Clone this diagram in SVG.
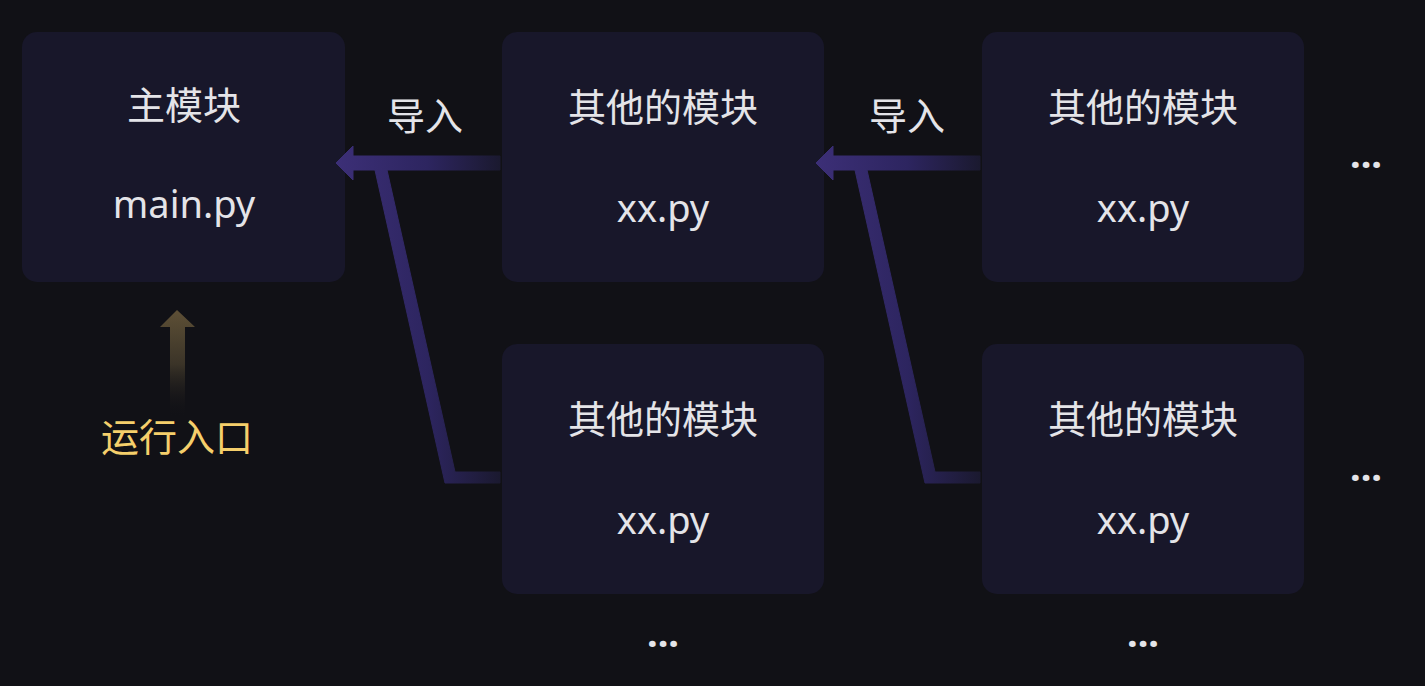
<svg xmlns="http://www.w3.org/2000/svg" width="1425" height="686" viewBox="0 0 1425 686">
  <style>
    .box { fill: #18172a; }
    .t { font-family: "Noto Sans", "Noto Sans CJK SC", sans-serif; font-size: 38px; fill: #e4e4e8; text-anchor: middle; }
    .lbl { font-family: "Noto Sans", "Noto Sans CJK SC", sans-serif; font-size: 38px; fill: #e4e4e8; text-anchor: middle; }
    .entry { font-family: "Noto Sans", "Noto Sans CJK SC", sans-serif; font-size: 38px; fill: #f5cf6b; text-anchor: middle; }
    .dots { font-family: "Noto Sans", sans-serif; font-size: 38px; font-weight: 700; fill: #e4e4e8; text-anchor: middle; }
  </style>
  <defs>
    <linearGradient id="g1" gradientUnits="userSpaceOnUse" x1="336" y1="0" x2="502" y2="0">
      <stop offset="0" stop-color="#3c2f77"/>
      <stop offset="0.55" stop-color="#2d2560"/>
      <stop offset="1" stop-color="#1a192e"/>
    </linearGradient>
    <linearGradient id="g2" gradientUnits="userSpaceOnUse" x1="816" y1="0" x2="982" y2="0">
      <stop offset="0" stop-color="#3c2f77"/>
      <stop offset="0.55" stop-color="#2d2560"/>
      <stop offset="1" stop-color="#1a192e"/>
    </linearGradient>
    <linearGradient id="gy" gradientUnits="userSpaceOnUse" x1="0" y1="310" x2="0" y2="418">
      <stop offset="0" stop-color="#5e5036"/>
      <stop offset="0.5" stop-color="#3b3428"/>
      <stop offset="1" stop-color="#111116" stop-opacity="0"/>
    </linearGradient>
  </defs>
  <rect width="1425" height="686" fill="#111116"/>

  <g id="main">
    <rect class="box" x="22" y="32" width="323" height="250" rx="15"/>
    <text class="t" x="184" y="119">主模块</text>
    <text class="t" x="184" y="218">main.py</text>
  </g>
  <g id="mod-a1">
    <rect class="box" x="502" y="32" width="322" height="250" rx="15"/>
    <text class="t" x="663" y="121">其他的模块</text>
    <text class="t" x="663" y="222">xx.py</text>
  </g>
  <g id="mod-a2">
    <rect class="box" x="502" y="344" width="322" height="250" rx="15"/>
    <text class="t" x="663" y="433">其他的模块</text>
    <text class="t" x="663" y="534">xx.py</text>
  </g>
  <g id="mod-b1">
    <rect class="box" x="982" y="32" width="322" height="250" rx="15"/>
    <text class="t" x="1143" y="121">其他的模块</text>
    <text class="t" x="1143" y="222">xx.py</text>
  </g>
  <g id="mod-b2">
    <rect class="box" x="982" y="344" width="322" height="250" rx="15"/>
    <text class="t" x="1143" y="433">其他的模块</text>
    <text class="t" x="1143" y="534">xx.py</text>
  </g>
  <g id="entry">
    <text class="entry" x="177" y="451">运行入口</text>
  </g>
  <g id="ellipses">
    <text class="dots" x="1366" y="168">...</text>
    <text class="dots" x="1366" y="481">...</text>
    <text class="dots" x="663" y="647">...</text>
    <text class="dots" x="1143" y="647">...</text>
  </g>

  <g id="connectors">
    <path d="M336,163 L353,146 L353,156 L500,156 L500,170 L387,170 L455,472 L500,472 L500,483 L445,483 L375,170 L353,170 L353,180 Z" fill="url(#g1)" stroke="url(#g1)" stroke-width="1" stroke-linejoin="round"/>
    <path d="M816,163 L833,146 L833,156 L980,156 L980,170 L867,170 L935,472 L980,472 L980,483 L925,483 L855,170 L833,170 L833,180 Z" fill="url(#g2)" stroke="url(#g2)" stroke-width="1" stroke-linejoin="round"/>
    <path d="M177,310 L195,327 L185,327 L185,418 L170,418 L170,327 L160,327 Z" fill="url(#gy)"/>
    <text class="lbl" x="425" y="130">导入</text>
    <text class="lbl" x="907" y="130">导入</text>
  </g>
</svg>
